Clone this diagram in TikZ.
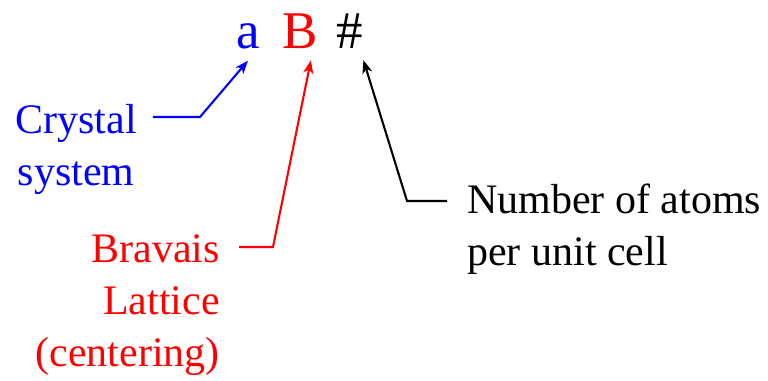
\documentclass[tikz,border=0pt]{standalone}
\usepackage{fontspec}
\setmainfont{Liberation Serif}
\usetikzlibrary{arrows.meta,calc}
\begin{document}
\begin{tikzpicture}[x=1pt,y=-1pt,
  lbl/.style={inner sep=0pt, font=\fontsize{42}{52}\selectfont},
  big/.style={inner sep=0pt, anchor=base west, font=\fontsize{53}{60}\selectfont},
  conn/.style={line width=2.1pt, -{Stealth[length=13pt,width=10pt,inset=3.5pt]}}]
\useasboundingbox (0,0) rectangle (768,380);
\node[big, text=blue] (a) at (236,48) {a};
\node[big, text=red] (B) at (282,48) {B};
\node[big] (h) at (336,48) {\#};
\node[lbl, text=blue, align=center, anchor=base] (cs) at (76,185) {Crystal\\system};
\node[lbl, text=red, align=right, anchor=base east] (bl) at (220,366) {Bravais\\Lattice\\(centering)};
\node[lbl, align=left, anchor=base west] (na) at (467,265) {Number of atoms\\per unit cell};
\coordinate (cb) at (200,117);
\coordinate (bb) at (273,247);
\coordinate (nb) at (407,201);
\draw[conn, blue] (cs.east |- 0,117) ++(16,0) -- (cb) -- ($(a.south)+(0,12)$);
\draw[conn, red] (bl.east |- 0,247) ++(19,0) -- (bb) -- ($(B.south)+(11,12)$);
\draw[conn] (na.west |- 0,201) ++(-20,0) -- (nb) -- ($(h.south)+(14,12)$);
\end{tikzpicture}
\end{document}
